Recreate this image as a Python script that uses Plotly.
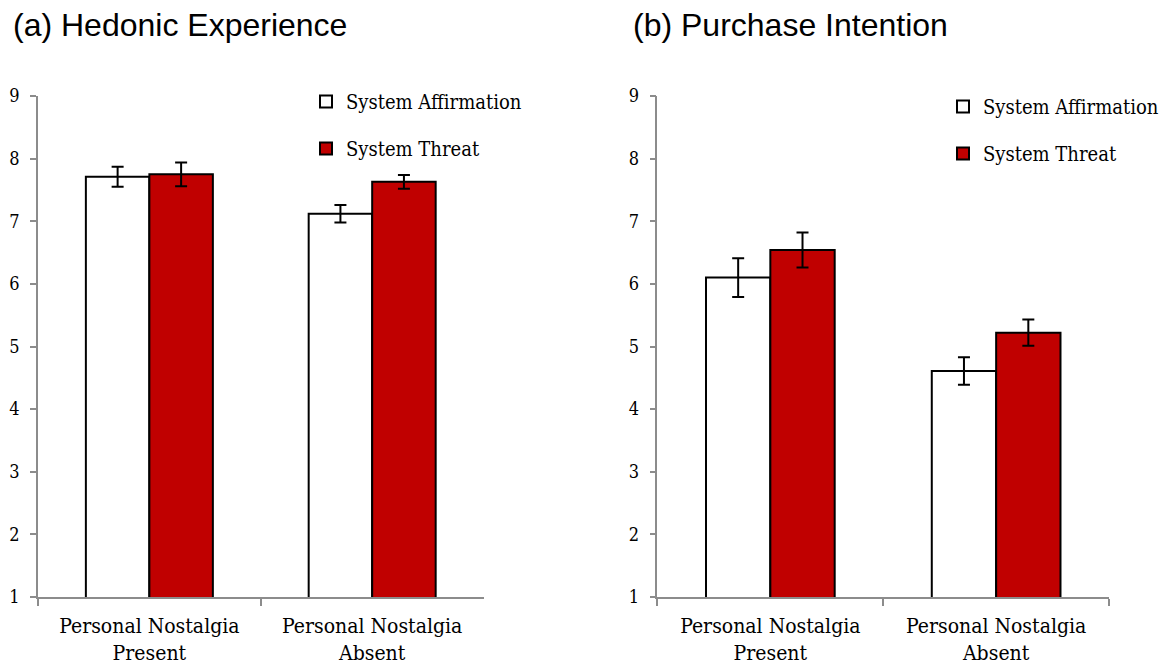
import plotly.graph_objects as go

categories = ["Personal Nostalgia<br>Present", "Personal Nostalgia<br>Absent"]
series_names = ["System Affirmation", "System Threat"]

# (a) Hedonic Experience
hedonic_affirm = [7.71, 7.12]
hedonic_affirm_err = [0.16, 0.14]
hedonic_threat = [7.75, 7.63]
hedonic_threat_err = [0.19, 0.11]

# (b) Purchase Intention
purchase_affirm = [6.10, 4.61]
purchase_affirm_err = [0.31, 0.22]
purchase_threat = [6.54, 5.22]
purchase_threat_err = [0.28, 0.21]

y_ticks = [1, 2, 3, 4, 5, 6, 7, 8, 9]

W, H = 1164, 666
RED = "#C00000"
AXIS_GREY = "#8c8c8c"
SERIF = "DejaVu Serif Condensed, DejaVu Serif, Liberation Serif"
SANS = "Liberation Sans"


def px_x(v):
    return v / W


def px_y(v):
    return 1 - v / H


fig = go.Figure()


def add_pair(affirm, affirm_err, threat, threat_err, xa, ya, legend):
    for name, vals, errs, color in [
        (series_names[0], affirm, affirm_err, "white"),
        (series_names[1], threat, threat_err, RED),
    ]:
        fig.add_trace(go.Bar(
            x=categories, y=vals, name=name,
            marker=dict(color=color, line=dict(color="black", width=2)),
            error_y=dict(type="data", array=errs, color="black",
                         thickness=2, width=6),
            xaxis=xa, yaxis=ya, legend=legend, legendgroup=legend + name,
        ))


add_pair(hedonic_affirm, hedonic_affirm_err, hedonic_threat,
         hedonic_threat_err, "x", "y", "legend")
add_pair(purchase_affirm, purchase_affirm_err, purchase_threat,
         purchase_threat_err, "x2", "y2", "legend2")

y_dom = [px_y(597), px_y(96)]

xaxis_common = dict(
    type="category", showline=True, linecolor=AXIS_GREY, linewidth=1.5,
    ticks="outside", tickson="boundaries", ticklen=7, tickcolor=AXIS_GREY,
    tickwidth=1.5, showgrid=False, zeroline=False, fixedrange=True,
    tickfont=dict(family=SERIF, size=21, color="black"),
    ticklabelstandoff=9, automargin=False,
)
yaxis_common = dict(
    range=[1, 9], tickvals=y_ticks, showline=True, linecolor=AXIS_GREY,
    linewidth=1.5, ticks="outside", ticklen=6, tickcolor=AXIS_GREY,
    tickwidth=1.5, showgrid=False, zeroline=False, domain=y_dom,
    tickfont=dict(family=SERIF, size=18, color="black"),
    ticklabelstandoff=7, automargin=False, fixedrange=True,
)

legend_common = dict(
    font=dict(family=SERIF, size=20, color="black"),
    bgcolor="rgba(0,0,0,0)", borderwidth=0, traceorder="grouped",
    tracegroupgap=18, xanchor="left", yanchor="top",
    itemclick=False, itemdoubleclick=False,
)

fig.update_layout(
    width=W, height=H,
    margin=dict(l=0, r=0, t=0, b=0),
    paper_bgcolor="white", plot_bgcolor="white",
    barmode="group", bargap=0.43, bargroupgap=0,
    showlegend=True,
    xaxis=dict(domain=[px_x(38), px_x(484)], anchor="y", **xaxis_common),
    yaxis=dict(anchor="x", **yaxis_common),
    xaxis2=dict(domain=[px_x(658), px_x(1110)], anchor="y2", **xaxis_common),
    yaxis2=dict(anchor="x2", **yaxis_common),
    legend=dict(x=px_x(306), y=px_y(82), **legend_common),
    legend2=dict(x=px_x(944), y=px_y(87), **legend_common),
    annotations=[
        dict(text="(a) Hedonic Experience", x=px_x(11), y=px_y(45),
             xref="paper", yref="paper", xanchor="left", yanchor="bottom",
             showarrow=False, font=dict(family=SANS, size=32, color="black")),
        dict(text="(b) Purchase Intention", x=px_x(632), y=px_y(45),
             xref="paper", yref="paper", xanchor="left", yanchor="bottom",
             showarrow=False, font=dict(family=SANS, size=32, color="black")),
    ],
)

fig.write_html("out.html", config={"displayModeBar": False})
